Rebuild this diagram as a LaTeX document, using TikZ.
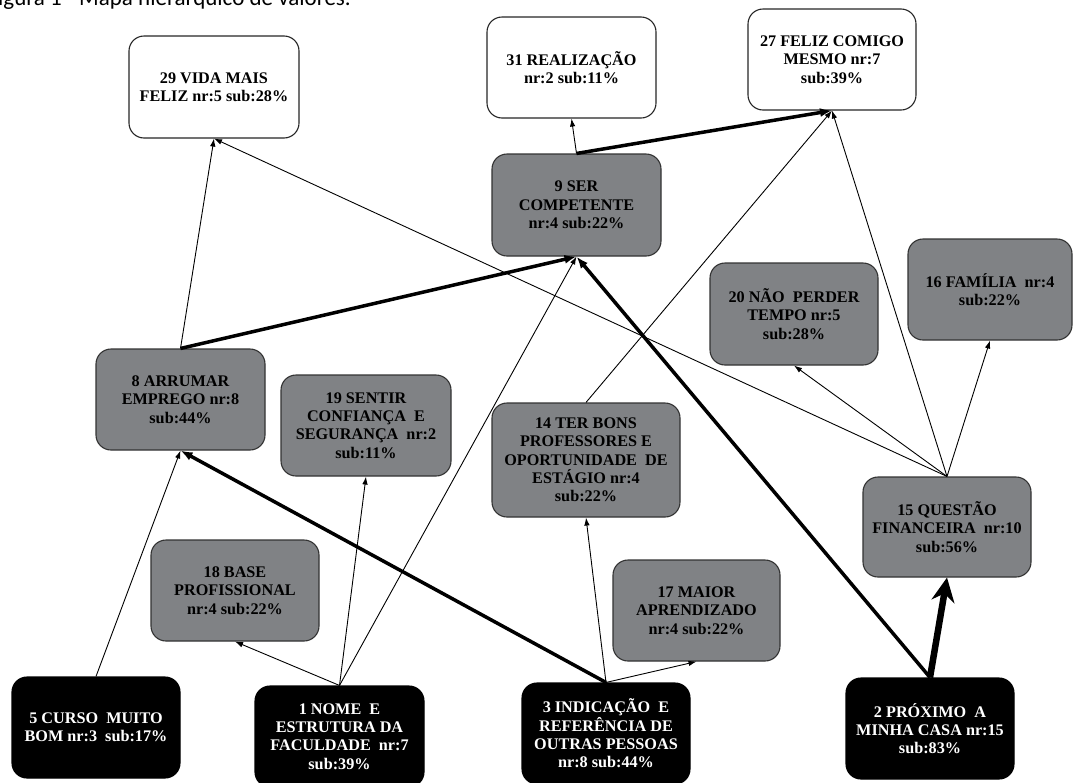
\documentclass[tikz,border=0pt]{standalone}
\usepackage{fontspec}
\setmainfont{Liberation Serif}
\newfontfamily\titlefont{Carlito}
\usetikzlibrary{arrows.meta}
\definecolor{boxgray}{RGB}{128,130,133}
\newcommand{\dsp}{\ \ }
\begin{document}
\begin{tikzpicture}[x=1pt,y=-1pt,
  vbox/.style={rounded corners=15pt, minimum width=169pt, minimum height=101pt, inner sep=2pt,
    align=center, font=\fontsize{16.2}{18.3}\selectfont\bfseries, line width=1.1pt},
  whitebox/.style={vbox, draw=black!85, fill=white},
  graybox/.style={vbox, draw=black!80, fill=boxgray},
  blackbox/.style={vbox, draw=black, fill=black, text=white},
  lnthin/.style={-{Latex[length=8pt,width=5.5pt]}, line width=0.9pt},
  lnthick/.style={-{Latex[length=12pt,width=9pt]}, line width=3.5pt},
  lnheavy/.style={-{Stealth[length=24pt,width=23pt]}, line width=6.5pt}
]
\useasboundingbox (0,0) rectangle (1073,782);

\node[anchor=base east, font=\titlefont\fontsize{23}{27}\selectfont, inner sep=0] (title) at (351,5) {Figura 1 - Mapa hierárquico de valores.};

\node[whitebox, minimum width=170pt, minimum height=102pt] (n29) at (214,87) {29 VIDA MAIS\\FELIZ nr:5 sub:28\%};
\node[whitebox] (n31) at (571.5,67.5) {31 REALIZAÇÃO\\nr:2 sub:11\%};
\node[whitebox, minimum width=168pt] (n27) at (832,59.5) {27 FELIZ COMIGO\\MESMO nr:7\\sub:39\%};
\node[graybox, minimum height=102pt] (n9) at (576.5,205) {9 SER\\COMPETENTE\\nr:4 sub:22\%};
\node[graybox, minimum width=168pt, minimum height=102pt] (n20) at (794,314) {20 NÃO\dsp PERDER\\TEMPO nr:5\\sub:28\%};
\node[graybox, minimum width=164pt] (n16) at (990,289.5) {16 FAMÍLIA\dsp nr:4\\sub:22\%};
\node[graybox, minimum width=168pt, minimum height=100pt] (n15) at (947,527) {15 QUESTÃO\\FINANCEIRA\dsp nr:10\\sub:56\%};
\node[graybox] (n8) at (180.5,399.5) {8 ARRUMAR\\EMPREGO nr:8\\sub:44\%};
\node[graybox, minimum width=170pt] (n19) at (366,425.5) {19 SENTIR\\CONFIANÇA\dsp E\\SEGURANÇA\dsp nr:2\\sub:11\%};
\node[graybox, minimum width=168pt] (n18) at (235,590.5) {18 BASE\\PROFISSIONAL\\nr:4 sub:22\%};
\node[graybox, minimum width=188pt, minimum height=114pt] (n14) at (586,460) {14 TER BONS\\PROFESSORES E\\OPORTUNIDADE\dsp DE\\ESTÁGIO nr:4\\sub:22\%};
\node[graybox, minimum width=167pt] (n17) at (696.5,610.5) {17 MAIOR\\APRENDIZADO\\nr:4 sub:22\%};
\node[blackbox, minimum width=168pt] (n3) at (606,733.5) {3 INDICAÇÃO\dsp E\\REFERÊNCIA DE\\OUTRAS PESSOAS\\nr:8 sub:44\%};
\node[blackbox, minimum width=168pt] (n5) at (96,727.5) {5 CURSO\dsp MUITO\\BOM nr:3\dsp sub:17\%};
\node[blackbox] (n1) at (339.5,736.5) {1 NOME\dsp E\\ESTRUTURA DA\\FACULDADE\dsp nr:7\\sub:39\%};
\node[blackbox, minimum width=168pt] (n2) at (930,728.5) {2 PRÓXIMO\dsp A\\MINHA CASA nr:15\\sub:83\%};

\draw[lnthin] (n8.north) -- (n29.south);
\draw[lnthick] (n8.north) -- (n9.south);
\draw[lnthin] (n9.north) -- (n31.south);
\draw[lnthick] (n9.north) -- (n27.south);
\draw[lnthin] (n5.north) -- (n8.south);
\draw[lnthin] (n1.north) -- (n18.south);
\draw[lnthin] (n1.north) -- (n19.south);
\draw[lnthin] (n1.north) -- (n9.south);
\draw[lnthick] (n3.north) -- (n8.south);
\draw[lnthin] (n3.north) -- (n14.south);
\draw[lnthin] (n3.north) -- (n17.south);
\draw[lnthin] (n14.north) -- (n27.south);
\draw[lnthin] (n15.north) -- (n27.south);
\draw[lnthin] (n15.north) -- (n29.south);
\draw[lnthin] (n15.north) -- (n20.south);
\draw[lnthin] (n15.north) -- (n16.south);
\draw[lnheavy] (n2.north) -- (n15.south);
\draw[lnthick] (n2.north) -- (n9.south);
\end{tikzpicture}
\end{document}
